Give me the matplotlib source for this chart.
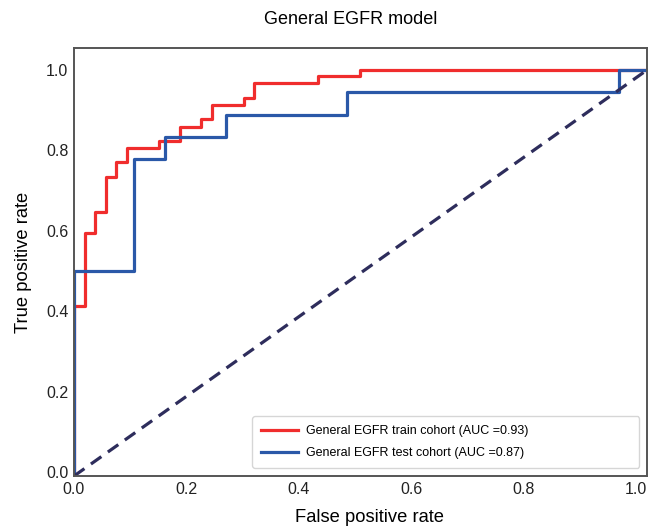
import matplotlib.pyplot as plt

# ROC points
train_fpr = [0, 0, 0.019, 0.019, 0.038, 0.038, 0.057, 0.057, 0.075, 0.075, 0.094, 0.094,
             0.151, 0.151, 0.189, 0.189, 0.226, 0.226, 0.245, 0.245, 0.302, 0.302,
             0.321, 0.321, 0.434, 0.434, 0.509, 0.509, 1.02]
train_tpr = [0, 0.414, 0.414, 0.594, 0.594, 0.646, 0.646, 0.733, 0.733, 0.771, 0.771, 0.805,
             0.805, 0.823, 0.823, 0.858, 0.858, 0.878, 0.878, 0.913, 0.913, 0.930,
             0.930, 0.968, 0.968, 0.985, 0.985, 1.0, 1.0]
test_fpr = [0, 0, 0.107, 0.107, 0.162, 0.162, 0.270, 0.270, 0.486, 0.486, 0.970, 0.970, 1.02]
test_tpr = [0, 0.5, 0.5, 0.778, 0.778, 0.833, 0.833, 0.889, 0.889, 0.944, 0.944, 1.0, 1.0]
diag_x = [0, 1.02]
diag_y = [-0.01, 1.0]

train_label = 'General EGFR train cohort (AUC =0.93)'
test_label = 'General EGFR test cohort (AUC =0.87)'
ticks = [0.0, 0.2, 0.4, 0.6, 0.8, 1.0]

plt.rcParams['font.family'] = ['Liberation Sans', 'DejaVu Sans']

fig = plt.figure(figsize=(6.49, 5.26), dpi=100)
ax = fig.add_axes([0.114, 0.095, 0.883, 0.814])

ax.plot(train_fpr, train_tpr, color='#f02d2d', lw=2.3, label=train_label)
ax.plot(test_fpr, test_tpr, color='#2a58a8', lw=2.3, label=test_label)
ax.plot(diag_x, diag_y, color='#2e2d5c', lw=2.3, linestyle=(0, (4, 2.5)))

ax.set_xlim(0, 1.02)
ax.set_ylim(-0.01, 1.055)
ax.set_xticks(ticks)
ax.set_yticks(ticks)
ax.tick_params(length=0, labelsize=11.5, pad=4, colors='#222222')
for s in ax.spines.values():
    s.set_color('#555555')
    s.set_linewidth(1.4)

ax.set_title('General EGFR model', fontsize=13, pad=17, x=0.483)
ax.set_xlabel('False positive rate', fontsize=13.2, labelpad=9, x=0.516)
ax.set_ylabel('True positive rate', fontsize=13.2, labelpad=10)

leg = ax.legend(loc='lower left', fontsize=9, frameon=True, handlelength=3.0,
                borderpad=0.7, labelspacing=0.8, handletextpad=0.6, borderaxespad=0,
                mode='expand', bbox_to_anchor=(0.311, 0.019, 0.675, 0.2))
leg.get_frame().set_edgecolor('#cccccc')

fig.savefig('out.png', dpi=100)
